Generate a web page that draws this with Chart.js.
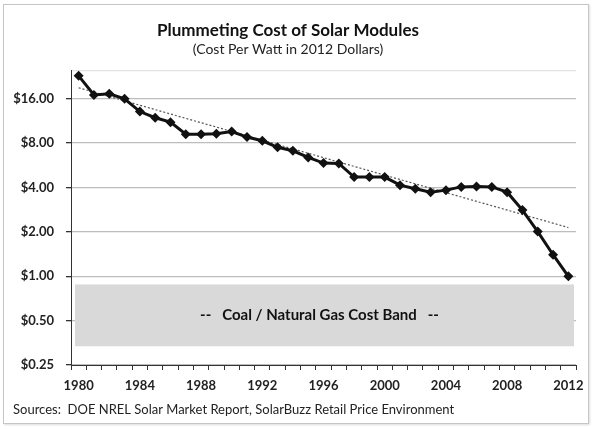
<!DOCTYPE html>
<html>
<head>
<meta charset="utf-8">
<script src="https://cdn.jsdelivr.net/npm/chart.js@4.4.0/dist/chart.umd.min.js"></script>
<style>
  body { margin: 0; background: #fff; }
  #wrap { position: relative; width: 593px; height: 429px; }
  #frame { position: absolute; left: 3px; top: 4px; width: 584px; height: 418px;
           border: 1px solid #c6c6c6; box-shadow: 1px 1px 2px #ddd; }
  #myChart { position: absolute; left: 0; top: 0; }
</style>
</head>
<body>
<div id="wrap">
  <div id="frame"></div>
  <canvas id="myChart" width="593" height="429"></canvas>
</div>
<script>
// years on the x axis
var years = ['1980','1981','1982','1983','1984','1985','1986','1987','1988','1989','1990',
             '1991','1992','1993','1994','1995','1996','1997','1998','1999','2000',
             '2001','2002','2003','2004','2005','2006','2007','2008','2009','2010','2011','2012'];
// module cost, $ per watt (2012 dollars)
var costPerWatt = [22.9, 17.0, 17.3, 16.0, 13.1, 11.9, 11.1, 9.2, 9.2, 9.25, 9.6,
                   8.8, 8.3, 7.5, 7.1, 6.4, 5.86, 5.83, 4.71, 4.72, 4.71,
                   4.15, 3.92, 3.72, 3.84, 4.04, 4.07, 4.04, 3.72, 2.81, 2.01, 1.40, 1.00];
// dotted exponential trend, read at its two ends
var trendYears = ['1980', '2012'];
var trendValues = [19.0, 2.14];
// coal / natural gas band (top, bottom)
var bandValues = [0.88, 0.335];
var bandLabel = '--   Coal / Natural Gas Cost Band   --';
// y axis
var yTicks = [0.25, 0.5, 1, 2, 4, 8, 16];
var yTickLabels = ['$0.25', '$0.50', '$1.00', '$2.00', '$4.00', '$8.00', '$16.00'];
var yMax = 25;
var sourceNote = 'Sources:  DOE NREL Solar Market Report, SolarBuzz Retail Price Environment';

var FONT = 'Lato, Calibri, "Open Sans", sans-serif';

//band behind the lines + source note at the bottom
const costBand = {
    id: 'costBand',
    beforeDatasetsDraw(chart) {
        const {ctx, chartArea: {left, right}, scales: {y}} = chart;
        const top = y.getPixelForValue(bandValues[0]);
        const bottom = y.getPixelForValue(bandValues[1]);
        ctx.save();
        ctx.fillStyle = '#d9d9d9';
        ctx.fillRect(left + 4, top, right - left - 6, bottom - top);
        ctx.fillStyle = '#111';
        ctx.font = 'bold 15px ' + FONT;
        ctx.textAlign = 'center';
        ctx.textBaseline = 'middle';
        ctx.fillText(bandLabel, (left + right) / 2 - 4, (top + bottom) / 2);
        ctx.restore();
    },
    afterDraw(chart) {
        const ctx = chart.ctx;
        ctx.save();
        ctx.fillStyle = '#222';
        ctx.font = '13px ' + FONT;
        ctx.textAlign = 'left';
        ctx.textBaseline = 'middle';
        ctx.fillText(sourceNote, 13, 410);
        ctx.restore();
    }
};

var data = {
    labels: years,
    datasets: [
        {
            data: costPerWatt,
            borderColor: '#111',
            backgroundColor: '#111',
            borderWidth: 3,
            pointStyle: 'rectRot',
            pointRadius: 5,
            pointBackgroundColor: '#111',
            pointBorderWidth: 0,
            tension: 0
        },
        {
            data: trendYears.map((yr, i) => ({x: yr, y: trendValues[i]})),
            borderColor: '#555',
            borderWidth: 1.2,
            borderDash: [2, 2],
            pointRadius: 0,
            tension: 0
        }
    ]
};

const config = {
    type: 'line',
    data,
    plugins: [costBand],
    options: {
        responsive: false,
        animation: false,
        layout: { padding: { left: 0, right: 17, top: 0, bottom: 0 } },
        plugins: {
            legend: { display: false },
            tooltip: { enabled: false },
            title: {
                display: true,
                text: 'Plummeting Cost of Solar Modules',
                color: '#111',
                font: { family: FONT, size: 17, weight: 'bold' },
                padding: { top: 20, bottom: 0 }
            },
            subtitle: {
                display: true,
                text: '(Cost Per Watt in 2012 Dollars)',
                color: '#222',
                font: { family: FONT, size: 14 },
                padding: { top: 1, bottom: 12 }
            }
        },
        scales: {
            y: {
                type: 'logarithmic',
                min: 0.25,
                max: yMax,
                afterBuildTicks(scale) {
                    scale.ticks = yTicks.concat([yMax]).map(v => ({value: v}));
                },
                afterFit(scale) { scale.width = 71; },
                ticks: {
                    color: '#222',
                    font: { family: FONT, size: 13, weight: 'bold' },
                    padding: 12,
                    callback: function (value) {
                        var i = yTicks.indexOf(value);
                        return i >= 0 ? yTickLabels[i] : '';
                    }
                },
                grid: {
                    color: ctx => (ctx.tick && ctx.tick.value === yMax) ? '#e2e2e2' : '#bdbdbd',
                    lineWidth: 1.3,
                    tickLength: 5,
                    tickColor: ctx => (ctx.tick && ctx.tick.value === yMax) ? 'rgba(0,0,0,0)' : '#333'
                },
                border: { color: '#333', width: 1 }
            },
            x: {
                type: 'category',
                offset: true,
                afterFit(scale) { scale.height = 64; },
                ticks: {
                    autoSkip: false,
                    maxRotation: 0,
                    color: '#222',
                    font: { family: FONT, size: 13, weight: 'bold' },
                    padding: 8,
                    callback: function (value, index) {
                        var yr = years[index];
                        return (+yr % 4 === 0) ? yr : '';
                    }
                },
                grid: {
                    offset: true,
                    drawOnChartArea: false,
                    tickLength: 5,
                    tickColor: '#333'
                },
                border: { color: '#333', width: 1 }
            }
        }
    }
};

function createChart() {
    var myChart = new Chart(document.getElementById('myChart'), config);
}
createChart();
</script>
</body>
</html>
